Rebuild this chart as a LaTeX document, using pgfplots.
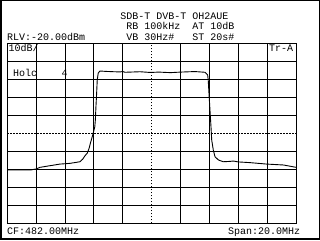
\documentclass[border=0pt]{standalone}
\usepackage{pgfplots}
\pgfplotsset{compat=1.18}
\usepackage{fontspec}
\setmainfont{Liberation Mono}
\newfontfamily\mono{Liberation Mono}
\begin{document}
\begin{tikzpicture}[x=1pt,y=1pt]
\useasboundingbox (0,0) rectangle (320,240);
\fill[white] (0,0) rectangle (320,240);
\begin{axis}[
  at={(7.3pt,16.7pt)}, anchor=south west,
  scale only axis, width=288.7pt, height=180pt,
  xmin=472, xmax=492, ymin=-120, ymax=-20,
  xtick={474,476,478,480,484,486,488,490},
  ytick={-110,-100,-90,-80,-60,-50,-40,-30},
  xticklabels={}, yticklabels={},
  major tick length=0pt,
  grid=major,
  major grid style={black, line width=0.9pt},
  axis line style={black, line width=1pt},
  extra x ticks={482}, extra y ticks={-70},
  extra x tick labels={}, extra y tick labels={},
  extra tick style={grid=major, major grid style={black, line width=0.9pt, dash pattern=on 1.5pt off 1.5pt}},
]
\addplot[black, line width=0.9pt, mark=none] coordinates {
(472.0,-90.4) (473.6,-90.4) (474.0,-89.8) (474.27,-88.9) (474.96,-88.0)
(475.65,-87.1) (476.34,-86.7) (477.04,-85.8) (477.22,-84.4) (477.38,-82.5)
(477.54,-81.0) (477.66,-78.5) (477.76,-75.4) (477.92,-70.9) (478.06,-66.5)
(478.10,-62.6) (478.14,-55.4) (478.19,-47.6) (478.23,-40.4) (478.30,-36.5)
(478.42,-35.4) (478.8,-35.6) (479.4,-35.8) (479.8,-35.9) (480.0,-35.7)
(480.15,-36.1) (480.5,-36.0) (481.2,-35.8) (481.9,-36.2) (482.5,-36.0)
(483.3,-36.3) (484.0,-36.0) (485.0,-35.7) (485.69,-36.1) (485.88,-37.6)
(485.92,-40.4) (485.97,-47.6) (486.04,-57.1) (486.11,-66.3) (486.16,-73.7)
(486.27,-79.3) (486.39,-83.0) (486.62,-84.8) (486.96,-85.8) (487.43,-85.6)
(487.66,-85.4) (488.0,-85.9) (488.82,-86.3) (489.97,-87.1) (491.12,-87.6)
(491.6,-88.3) (492.0,-88.9)
};
\end{axis}
\draw[black, line width=1.5pt] (0.75,0.75) rectangle (319.25,239.25);
\begin{scope}[every node/.style={inner sep=0pt, anchor=base west, font=\mono\fontsize{10}{12}\selectfont}]
\node at (120.2,220.7) {SDB-T DVB-T OH2AUE};
\node at (126.2,210) {RB};
\node at (144.2,210) {100kHz};
\node at (192.2,210) {AT};
\node at (210.2,210) {10dB};
\node at (126.2,199.3) {VB};
\node at (144.2,199.3) {30Hz\#};
\node at (192.2,199.3) {ST};
\node at (210.2,199.3) {20s\#};
\node at (7,199.3) {RLV:-20.00dBm};
\node at (8.5,188.3) {10dB/};
\node at (269,188.3) {Tr-A};
\node at (13,163) {Holc};
\node at (61.3,163) {4};
\node at (7,5.7) {CF:482.00MHz};
\node at (228,5.7) {Span:20.0MHz};
\end{scope}
\end{tikzpicture}
\end{document}
